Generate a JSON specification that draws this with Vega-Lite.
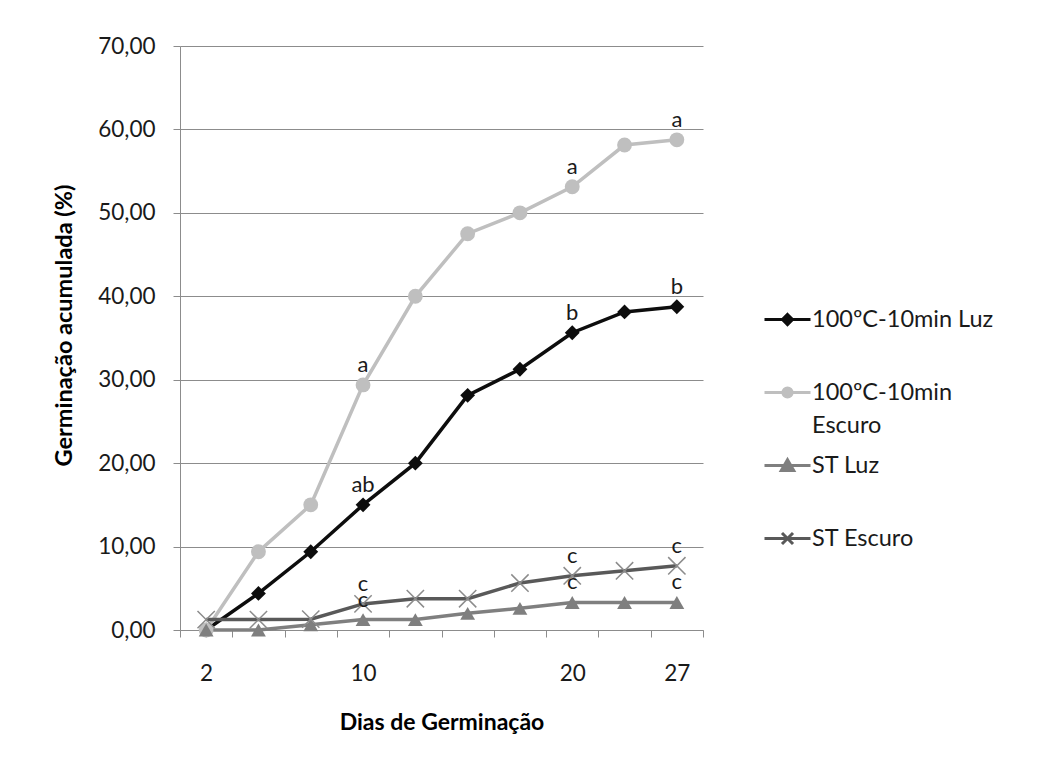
{
  "$schema": "https://vega.github.io/schema/vega-lite/v6.json",
  "autosize": "none",
  "width": 523,
  "height": 584,
  "padding": {"left": 180, "top": 46, "right": 338, "bottom": 134},
  "background": "white",
  "config": {
    "font": "Lato",
    "view": {"stroke": null},
    "axis": {
      "labelFont": "Lato", "labelFontSize": 22.5, "labelColor": "#1a1a1a",
      "titleFont": "Lato", "titleFontWeight": "bold", "titleColor": "#000000",
      "domainColor": "#8c8c8c", "tickColor": "#8c8c8c", "gridColor": "#8c8c8c", "tickSize": 7
    },
    "axisX": {"titleFontSize": 23},
    "axisY": {"titleFontSize": 23.5}
  },
  "data": {"values": [
    {"serie": "100ºC-10min Luz", "dia": 2, "valor": 0, "letra": ""},
    {"serie": "100ºC-10min Luz", "dia": 5, "valor": 4.38, "letra": ""},
    {"serie": "100ºC-10min Luz", "dia": 7, "valor": 9.38, "letra": ""},
    {"serie": "100ºC-10min Luz", "dia": 10, "valor": 15.0, "letra": "ab"},
    {"serie": "100ºC-10min Luz", "dia": 12, "valor": 20.0, "letra": ""},
    {"serie": "100ºC-10min Luz", "dia": 14, "valor": 28.13, "letra": ""},
    {"serie": "100ºC-10min Luz", "dia": 17, "valor": 31.25, "letra": ""},
    {"serie": "100ºC-10min Luz", "dia": 20, "valor": 35.63, "letra": "b"},
    {"serie": "100ºC-10min Luz", "dia": 24, "valor": 38.13, "letra": ""},
    {"serie": "100ºC-10min Luz", "dia": 27, "valor": 38.75, "letra": "b"},
    {"serie": "100ºC-10min Escuro", "dia": 2, "valor": 0, "letra": ""},
    {"serie": "100ºC-10min Escuro", "dia": 5, "valor": 9.38, "letra": ""},
    {"serie": "100ºC-10min Escuro", "dia": 7, "valor": 15.0, "letra": ""},
    {"serie": "100ºC-10min Escuro", "dia": 10, "valor": 29.38, "letra": "a"},
    {"serie": "100ºC-10min Escuro", "dia": 12, "valor": 40.0, "letra": ""},
    {"serie": "100ºC-10min Escuro", "dia": 14, "valor": 47.5, "letra": ""},
    {"serie": "100ºC-10min Escuro", "dia": 17, "valor": 50.0, "letra": ""},
    {"serie": "100ºC-10min Escuro", "dia": 20, "valor": 53.13, "letra": "a"},
    {"serie": "100ºC-10min Escuro", "dia": 24, "valor": 58.13, "letra": ""},
    {"serie": "100ºC-10min Escuro", "dia": 27, "valor": 58.75, "letra": "a"},
    {"serie": "ST Luz", "dia": 2, "valor": 0, "letra": ""},
    {"serie": "ST Luz", "dia": 5, "valor": 0, "letra": ""},
    {"serie": "ST Luz", "dia": 7, "valor": 0.63, "letra": ""},
    {"serie": "ST Luz", "dia": 10, "valor": 1.25, "letra": "c"},
    {"serie": "ST Luz", "dia": 12, "valor": 1.25, "letra": ""},
    {"serie": "ST Luz", "dia": 14, "valor": 2.0, "letra": ""},
    {"serie": "ST Luz", "dia": 17, "valor": 2.6, "letra": ""},
    {"serie": "ST Luz", "dia": 20, "valor": 3.3, "letra": "c"},
    {"serie": "ST Luz", "dia": 24, "valor": 3.3, "letra": ""},
    {"serie": "ST Luz", "dia": 27, "valor": 3.3, "letra": "c"},
    {"serie": "ST Escuro", "dia": 2, "valor": 1.25, "letra": ""},
    {"serie": "ST Escuro", "dia": 5, "valor": 1.25, "letra": ""},
    {"serie": "ST Escuro", "dia": 7, "valor": 1.3, "letra": ""},
    {"serie": "ST Escuro", "dia": 10, "valor": 3.13, "letra": "c"},
    {"serie": "ST Escuro", "dia": 12, "valor": 3.75, "letra": ""},
    {"serie": "ST Escuro", "dia": 14, "valor": 3.75, "letra": ""},
    {"serie": "ST Escuro", "dia": 17, "valor": 5.63, "letra": ""},
    {"serie": "ST Escuro", "dia": 20, "valor": 6.5, "letra": "c"},
    {"serie": "ST Escuro", "dia": 24, "valor": 7.1, "letra": ""},
    {"serie": "ST Escuro", "dia": 27, "valor": 7.7, "letra": "c"}
  ]},
  "encoding": {
    "x": {
      "field": "dia", "type": "ordinal", "bandPosition": 0.5,
      "scale": {"type": "band", "paddingInner": 0, "paddingOuter": 0},
      "axis": {
        "title": "Dias de Germinação", "labelAngle": 0, "tickBand": "extent",
        "labelPadding": 25, "titlePadding": 27,
        "labelExpr": "indexof([2,10,20,27], datum.value) >= 0 ? datum.label : ''"
      }
    },
    "y": {
      "field": "valor", "type": "quantitative",
      "scale": {"domain": [0, 70], "nice": false},
      "axis": {
        "title": "Germinação acumulada (%)", "values": [0, 10, 20, 30, 40, 50, 60, 70],
        "labelExpr": "replace(format(datum.value, '.2f'), '.', ',')",
        "labelPadding": 18, "titlePadding": 21, "titleY": 279
      }
    }
  },
  "layer": [
    {
      "mark": {"type": "line", "strokeWidth": 3.5},
      "encoding": {
        "color": {
          "field": "serie", "type": "nominal",
          "scale": {
            "domain": ["100ºC-10min Luz", "100ºC-10min Escuro", "ST Luz", "ST Escuro"],
            "range": ["#0d0d0d", "#bfbfbf", "#7f7f7f", "#595959"]
          },
          "legend": {
            "title": null, "orient": "none", "legendX": 583, "legendY": 249,
            "direction": "vertical", "columns": 1, "gridAlign": "all",
            "padding": 0, "symbolSize": 2116, "symbolStrokeWidth": 3,
            "labelFont": "Lato", "labelFontSize": 23.5, "labelColor": "#1a1a1a",
            "labelOffset": 0, "rowPadding": 4, "labelLimit": 300,
            "labelExpr": "datum.label == '100ºC-10min Escuro' ? ['100ºC-10min', 'Escuro'] : datum.label",
            "encode": {
              "symbols": {"update": {
                "shape": {"signal": "datum.value == '100ºC-10min Luz' ? 'M-1,0L1,0M0,-0.22L0.22,0L0,0.22L-0.22,0Z' : datum.value == '100ºC-10min Escuro' ? 'M-1,0L1,0M0.2,0A0.2,0.2,0,1,1,-0.2,0A0.2,0.2,0,1,1,0.2,0Z' : datum.value == 'ST Luz' ? 'M-1,0L1,0M0,-0.25L0.27,0.22L-0.27,0.22Z' : 'M-1,0L1,0M-0.24,-0.24L0.24,0.24M-0.24,0.24L0.24,-0.24'"},
                "stroke": {"scale": "color", "field": "value"},
                "fill": {"scale": "color", "field": "value"},
                "strokeWidth": {"value": 3},
                "opacity": {"value": 1}
              }},
              "labels": {"update": {"lineHeight": {"value": 33}}}
            }
          }
        }
      }
    },
    {
      "transform": [{"filter": "datum.serie != 'ST Escuro'"}],
      "mark": {"type": "point", "filled": true, "opacity": 1, "size": 220},
      "encoding": {
        "color": {"field": "serie", "type": "nominal"},
        "shape": {
          "field": "serie", "type": "nominal",
          "scale": {
            "domain": ["100ºC-10min Luz", "100ºC-10min Escuro", "ST Luz"],
            "range": ["diamond", "circle", "triangle-up"]
          },
          "legend": null
        }
      }
    },
    {
      "transform": [{"filter": "datum.serie == 'ST Escuro'"}],
      "mark": {"type": "point", "shape": "M-1,-1L1,1M-1,1L1,-1", "filled": false, "stroke": "#8c8c8c", "strokeWidth": 1.5, "opacity": 1, "size": 300}
    },
    {
      "transform": [{"filter": "datum.letra != ''"}],
      "mark": {"type": "text", "font": "Lato", "fontSize": 22, "color": "#1a1a1a", "dy": -20, "baseline": "middle"},
      "encoding": {"text": {"field": "letra"}}
    }
  ]
}
